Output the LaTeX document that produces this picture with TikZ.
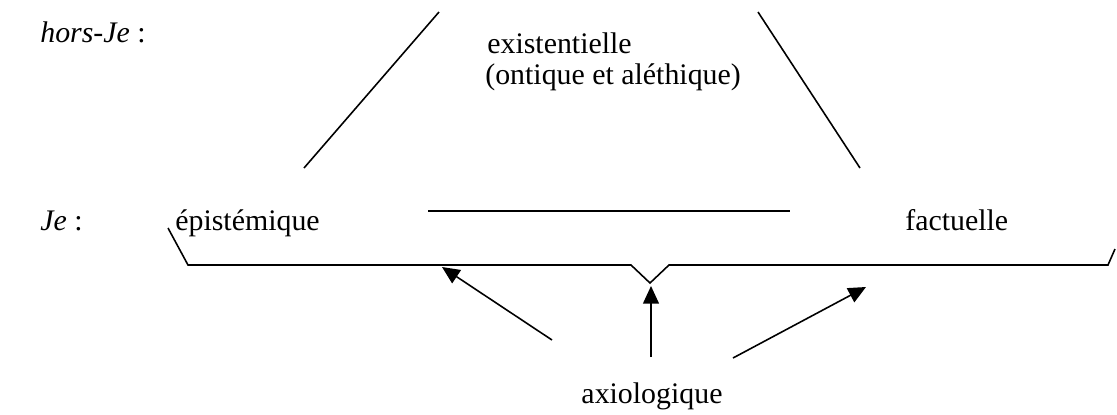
\documentclass[tikz,border=0pt]{standalone}
\usepackage{fontspec}
\setmainfont{Liberation Serif}
\usetikzlibrary{arrows.meta}
\begin{document}
\begin{tikzpicture}[x=0.02cm,y=-0.02cm,
  txt/.style={anchor=base west,inner sep=0pt,font=\fontsize{17}{20}\selectfont},
  trait/.style={line width=0.9pt},
  fleche/.style={line width=0.9pt,-{Triangle[length=10pt,width=9pt]}}]
  \useasboundingbox (0,0) rectangle (1117,414);
  % niveaux
  \node[txt] (horsje) at (40,42) {\textit{hors-Je} :};
  \node[txt] (je) at (40,230) {\textit{Je} :};
  % modalites
  \node[txt] (exist) at (487,53) {existentielle};
  \node[txt] (ontique) at (485,84) {(ontique et aléthique)};
  \node[txt] (episte) at (175,230) {épistémique};
  \node[txt] (fact) at (905,230) {factuelle};
  \node[txt,anchor=base] (axio) at (652,403) {axiologique};
  % triangle
  \coordinate (g1) at (304,168);
  \coordinate (g2) at (439,12);
  \coordinate (d1) at (758,12);
  \coordinate (d2) at (860,168);
  \coordinate (b1) at (428,211);
  \coordinate (b2) at (790,211);
  \draw[trait] (g1) -- (g2);
  \draw[trait] (d1) -- (d2);
  \draw[trait] (b1) -- (b2);
  % accolade
  \draw[trait] (168,228) -- (188,265) -- (631,265) -- (650,283)
    -- (669,265) -- (1108,265) -- (1115,249);
  % fleches
  \coordinate (f1) at (442,267);
  \coordinate (f2) at (651,286);
  \coordinate (f3) at (866,287);
  \draw[fleche] (552,340) -- (f1);
  \draw[fleche] (651,357) -- (f2);
  \draw[fleche] (733,358) -- (f3);
\end{tikzpicture}
\end{document}
